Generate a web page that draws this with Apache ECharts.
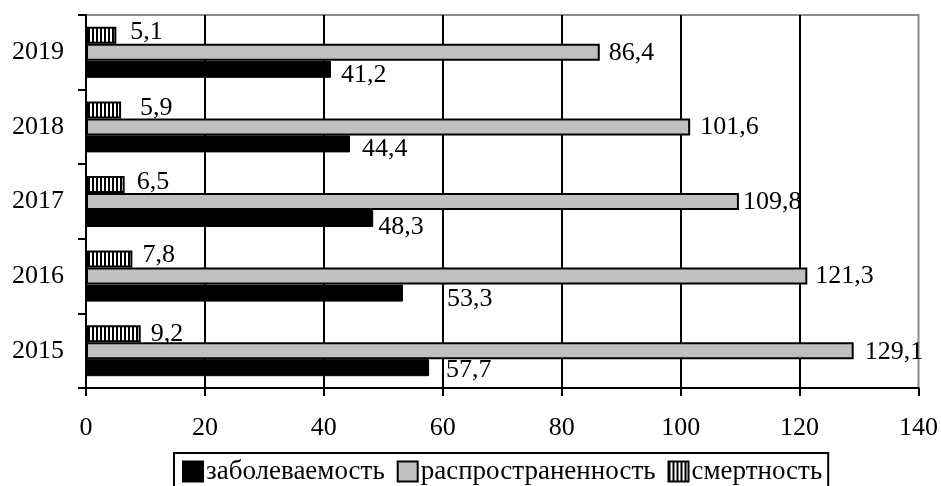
<!DOCTYPE html>
<html>
<head>
<meta charset="utf-8">
<script src="https://cdn.jsdelivr.net/npm/echarts@6/dist/echarts.min.js"></script>
<style>
  html, body { margin: 0; padding: 0; background: #fff; }
  #chart { width: 941px; height: 486px; }
</style>
</head>
<body>
<div id="chart"></div>
<script>
// Years, bottom to top
const years = ['2015', '2016', '2017', '2018', '2019'];
// заболеваемость
const incidence = [57.7, 53.3, 48.3, 44.4, 41.2];
// распространенность
const prevalence = [129.1, 121.3, 109.8, 101.6, 86.4];
// смертность
const mortality = [9.2, 7.8, 6.5, 5.9, 5.1];
// value axis ticks
const xTicks = [0, 20, 40, 60, 80, 100, 120, 140];

// Hand-placed label shifts [dx, dy] per year
const labelNudge = {
  incidence:  [[17, 2], [44, 6], [5, 9], [12, 5], [10, 6]],
  prevalence: [[11, 1], [8, 0], [4, 1], [10, 0], [9, 1]],
  mortality:  [[10, 0], [10, -4], [12, -2], [19, -2], [14, -3]]
};

const FONT = '"Liberation Serif", "Times New Roman", serif';

// vertical hatching for the mortality bars
function hatch() {
  const c = document.createElement('canvas');
  c.width = 4; c.height = 8;
  const g = c.getContext('2d');
  g.fillStyle = '#fff';
  g.fillRect(0, 0, 4, 8);
  g.fillStyle = '#000';
  g.fillRect(0, 0, 2, 8);
  return { image: c, repeat: 'repeat' };
}

function fmt(v) { return String(v).replace('.', ','); }

function items(values, nudges) {
  return values.map((v, i) => ({
    value: v,
    label: { offset: nudges[i] }
  }));
}

const labelBase = {
  show: true,
  position: 'right',
  distance: 0,
  color: '#000',
  fontFamily: FONT,
  fontSize: 26,
  formatter: p => fmt(p.value)
};

const chart = echarts.init(document.getElementById('chart'), null, { renderer: 'canvas' });
chart.setOption({
  animation: false,
  backgroundColor: '#fff',
  grid: {
    left: 86, right: 20, top: 15, bottom: 98,
    show: true,
    borderColor: '#8c8c8c',
    borderWidth: 2,
    backgroundColor: 'transparent'
  },
  legend: {
    left: 174,
    top: 453,
    orient: 'horizontal',
    itemWidth: 20,
    itemHeight: 20,
    itemGap: 12,
    padding: [5, 6, 20, 8],
    borderColor: '#000',
    borderWidth: 2,
    icon: 'rect',
    textStyle: { fontFamily: FONT, fontSize: 27, color: '#000', padding: [0, 0, 0, -2] },
    data: ['заболеваемость', 'распространенность', 'смертность']
  },
  xAxis: {
    type: 'value',
    min: xTicks[0],
    max: xTicks[xTicks.length - 1],
    interval: xTicks[1] - xTicks[0],
    axisLine: { show: true, lineStyle: { color: '#000', width: 2 } },
    axisTick: { show: true, length: 8, lineStyle: { color: '#000', width: 2 } },
    axisLabel: { color: '#000', fontFamily: FONT, fontSize: 26, margin: 27 },
    splitLine: { show: true, showMinLine: false, showMaxLine: false, lineStyle: { color: '#000', width: 2 } }
  },
  yAxis: {
    type: 'category',
    data: years,
    axisLine: { show: true, lineStyle: { color: '#000', width: 2 } },
    axisTick: { show: true, length: 8, lineStyle: { color: '#000', width: 2 } },
    axisLabel: { color: '#000', fontFamily: FONT, fontSize: 26, margin: 22 },
    splitLine: { show: false }
  },
  // series listed top-to-bottom within each year band
  series: [
    {
      name: 'смертность',
      type: 'bar',
      barWidth: 17,
      barGap: '0%',
      data: items(mortality, labelNudge.mortality),
      itemStyle: { color: hatch(), borderColor: '#000', borderWidth: 2 },
      label: labelBase
    },
    {
      name: 'распространенность',
      type: 'bar',
      barWidth: 17,
      barGap: '0%',
      data: items(prevalence, labelNudge.prevalence),
      itemStyle: { color: '#c0c0c0', borderColor: '#000', borderWidth: 2 },
      label: labelBase
    },
    {
      name: 'заболеваемость',
      type: 'bar',
      barWidth: 17,
      barGap: '0%',
      data: items(incidence, labelNudge.incidence),
      itemStyle: { color: '#000', borderColor: '#000', borderWidth: 1 },
      label: labelBase
    }
  ]
});
</script>
</body>
</html>
